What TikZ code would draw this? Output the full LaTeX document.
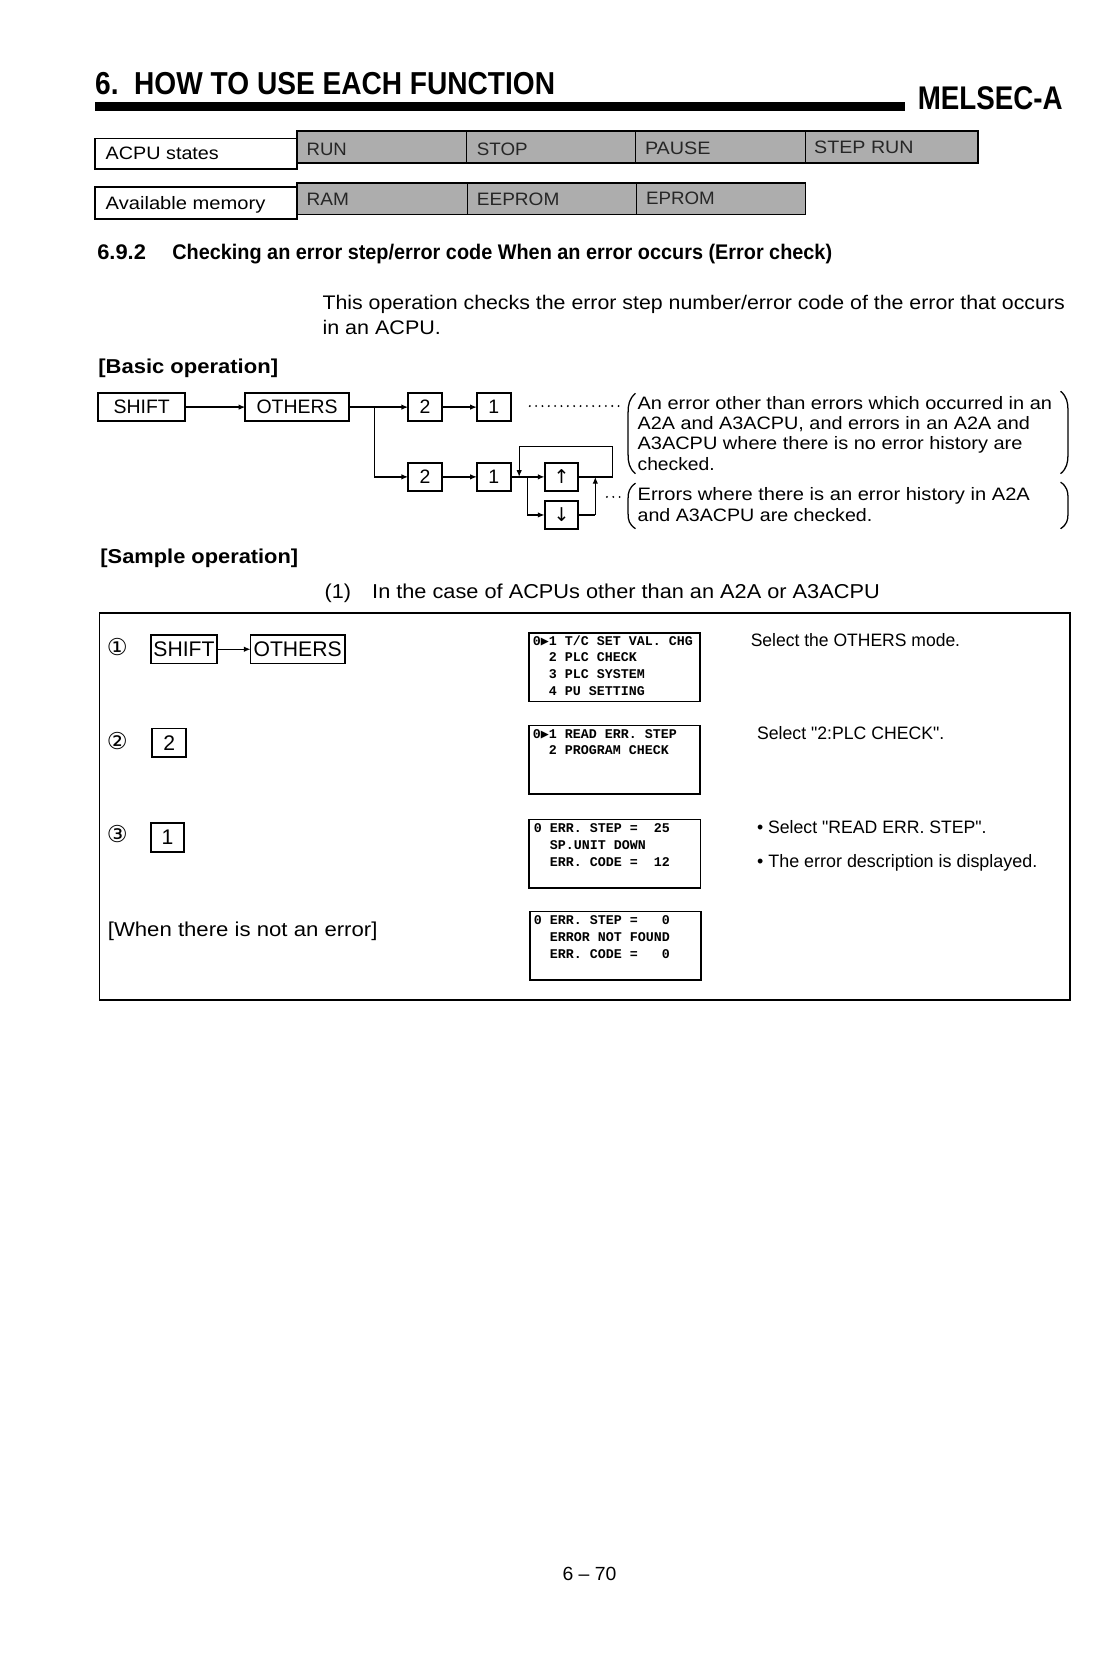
\documentclass[tikz,border=0pt]{standalone}
\usepackage{fontspec}
\setmainfont{Liberation Sans}
\setmonofont{Liberation Mono}
\newfontfamily\dejavu{DejaVu Sans}
\newfontfamily\dvmono{DejaVu Sans Mono}
\usetikzlibrary{arrows.meta}
\newlength\px \setlength\px{0.5pt}
\newcommand\fw[2]{\resizebox{#1\px}{\height}{#2}}
\newcommand\fs[1]{\fontsize{#1}{#1}\selectfont}
\newcommand\cur{{\dvmono\bfseries ▶}}
\newcommand\dq{\XeTeXglyph\XeTeXcharglyph"22\relax}
\begin{document}
\begin{tikzpicture}[x=0.5pt,y=-0.5pt,
  txt/.style={anchor=base west, inner sep=0pt, outer sep=0pt},
  keybox/.style={draw, line width=0.9pt, inner sep=0pt, outer sep=0pt, font=\fs{9.2}},
  skey/.style={draw, line width=0.8pt, inner sep=0pt, outer sep=0pt, font=\fs{10}},
  lcd/.style={draw, line width=0.8pt, inner sep=0pt, minimum width=81pt, minimum height=32.5pt},
  lt/.style={txt, font=\ttfamily\bfseries\fs{6.3}},
  arr/.style={-{Latex[length=3.2pt,width=2.6pt]}, line width=0.6pt},
  ln/.style={line width=0.6pt},
  leader/.style={line width=1pt, line cap=round, dash pattern=on 0pt off 3pt},
  paren/.style={line width=0.6pt},
  cellfill/.style={fill=black!32, line width=0.7pt, draw},
  celltxt/.style={txt, font=\fs{8.5}, text=black!85},
  body/.style={txt, font=\fs{8.5}},
  para/.style={txt, font=\fs{9.3}},
  bhead/.style={txt, font=\bfseries\fs{9.5}},
  circ/.style={txt, font={\dejavu\fs{11}}}]
\useasboundingbox[fill=white] (0,0) rectangle (1040,1568);

% ---------- page header ----------
\node[txt, font=\bfseries\fs{15}] (title) at (90,89) {\fw{435}{6.\ \ HOW TO USE EACH FUNCTION}};
\fill (90,96) rectangle (856,105);
\node[txt, font=\bfseries\fs{15.5}] (melsec) at (868,104) {\fw{137}{MELSEC-A}};

% ---------- ACPU states / memory tables ----------
\draw[line width=0.7pt] (90,131) rectangle (281,160);
\draw[cellfill] (281,124) rectangle (925,154);
\draw[line width=0.7pt] (441,124)--(441,154) (601,124)--(601,154) (762,124)--(762,154);
\node[body] (acpu) at (100,151) {\fw{107}{ACPU states}};
\node[celltxt] (run) at (290,147) {\fw{38}{RUN}};
\node[celltxt] (stop) at (451,147) {\fw{48}{STOP}};
\node[celltxt] (pause) at (610,146) {\fw{62}{PAUSE}};
\node[celltxt] (steprun) at (770,145) {\fw{94}{STEP RUN}};

\draw[line width=0.7pt] (90,177) rectangle (281,207);
\draw[cellfill] (281,173) rectangle (762,203);
\draw[line width=0.7pt] (442,173)--(442,203) (602,173)--(602,203);
\node[body] (avail) at (100,198) {\fw{151}{Available memory}};
\node[celltxt] (ram) at (290,194) {\fw{40}{RAM}};
\node[celltxt] (eeprom) at (451,194) {\fw{78}{EEPROM}};
\node[celltxt] (eprom) at (611,193) {\fw{65}{EPROM}};

% ---------- section heading ----------
\node[txt, font=\bfseries\fs{10}] (secno) at (92,245) {\fw{46}{6.9.2}};
\node[txt, font=\bfseries\fs{10}] (sectitle) at (163,245) {\fw{624}{Checking an error step/error code When an error occurs (Error check)}};
\node[para] (p1) at (305,293) {\fw{702}{This operation checks the error step number/error code of the error that occurs}};
\node[para] (p2) at (305,316) {\fw{112}{in an ACPU.}};

\node[bhead] (basic) at (93,353) {\fw{170}{[Basic operation]}};

% ---------- basic operation diagram ----------
\node[keybox, minimum width=41pt, minimum height=13.5pt] (shift) at (134,385) {SHIFT};
\node[keybox, minimum width=49pt, minimum height=13.5pt] (others) at (281,385) {OTHERS};
\node[keybox, minimum width=16pt, minimum height=13pt] (twoA) at (402,385) {2};
\node[keybox, minimum width=16pt, minimum height=13pt] (oneA) at (467,385) {1};
\node[keybox, minimum width=16pt, minimum height=13pt] (twoB) at (402,451) {2};
\node[keybox, minimum width=16pt, minimum height=13pt] (oneB) at (467,451) {1};
\node[keybox, minimum width=16pt, minimum height=13pt, font={\dejavu\fs{9}}] (up) at (531,451) {↑};
\node[keybox, minimum width=16pt, minimum height=13pt, font={\dejavu\fs{9}}] (down) at (531,487) {↓};

\coordinate (br) at (354,385);
\coordinate (jn) at (499,451);
\coordinate (loopR) at (579,422);
\coordinate (loopL) at (491,422);
\coordinate (loopIn) at (491,451);
\coordinate (dnR) at (563,487);
\coordinate (dnIn) at (563,451);

\draw[arr] (shift) -- (others);
\draw[arr] (others) -- (twoA);
\draw[arr] (br) |- (twoB);
\draw[arr] (twoA) -- (oneA);
\draw[arr] (twoB) -- (oneB);
\draw[arr] (oneB) -- (up);
\draw[arr] (jn) |- (down);
\draw[ln] (up.east) -| (loopR) -- (loopL);
\draw[arr] (loopL) -- (loopIn);
\draw[ln] (down.east) -- (dnR);
\draw[arr] (dnR) -- (dnIn);

\coordinate (ldA1) at (501,384);
\coordinate (ldA2) at (585,384);
\coordinate (ldB1) at (574,470);
\coordinate (ldB2) at (586,470);
\draw[leader] (ldA1) -- (ldA2);
\draw[leader] (ldB1) -- (ldB2);

% parentheses
\draw[paren] (601,372) .. controls (595,377) and (594,383) .. (594,390) -- (594,430) .. controls (594,437) and (595,443) .. (601,448);
\draw[paren] (1003,370) .. controls (1009,375) and (1010,381) .. (1010,388) -- (1010,430) .. controls (1010,437) and (1009,443) .. (1003,448);
\draw[paren] (601,457) .. controls (595,461) and (594,466) .. (594,471) -- (594,486) .. controls (594,492) and (595,496) .. (601,500);
\draw[paren] (1003,456) .. controls (1009,460) and (1010,465) .. (1010,470) -- (1010,486) .. controls (1010,492) and (1009,496) .. (1003,500);

\node[body] (n1a) at (603,387) {\fw{392}{An error other than errors which occurred in an}};
\node[body] (n1b) at (603,406) {\fw{371}{A2A and A3ACPU, and errors in an A2A and}};
\node[body] (n1c) at (603,425) {\fw{364}{A3ACPU where there is no error history are}};
\node[body] (n1d) at (603,445) {\fw{73}{checked.}};
\node[body] (n2a) at (603,473) {\fw{371}{Errors where there is an error history in A2A}};
\node[body] (n2b) at (603,493) {\fw{222}{and A3ACPU are checked.}};

% ---------- sample operation ----------
\node[bhead] (sample) at (95,533) {\fw{187}{[Sample operation]}};
\node[txt, font=\fs{9.5}] (case1no) at (307,566) {\fw{25}{(1)}};
\node[txt, font=\fs{9.5}] (case1) at (352,566) {\fw{480}{In the case of ACPUs other than an A2A or A3ACPU}};

\draw[line width=0.8pt] (94,580) rectangle (1012,946);

% row 1
\node[circ] (c1) at (101,620) {①};
\node[skey, minimum width=31pt, minimum height=13.5pt] (sshift) at (174,614) {SHIFT};
\node[skey, minimum width=44.5pt, minimum height=13.5pt] (sothers) at (281.5,614) {OTHERS};
\draw[arr] (sshift) -- (sothers);
\node[lcd] (lcd1) at (581,631) {};
\node[lt] (l1a) at (504,610) {0\cur1 T/C SET VAL. CHG};
\node[lt] (l1b) at (504,626) {~~2 PLC CHECK};
\node[lt] (l1c) at (504,642) {~~3 PLC SYSTEM};
\node[lt] (l1d) at (504,658) {~~4 PU SETTING};
\node[body] (d1) at (710,611) {\fw{198}{Select the OTHERS mode.}};

% row 2
\node[circ] (c2) at (101,709) {②};
\node[skey, minimum width=16pt, minimum height=13.5pt] (stwo) at (160,702.5) {2};
\node[lcd] (lcd2) at (581,718.5) {};
\node[lt] (l2a) at (504,698) {0\cur1 READ ERR. STEP};
\node[lt] (l2b) at (504,714) {~~2 PROGRAM CHECK};
\node[body] (d2) at (716,699) {\fw{177}{Select \dq2:PLC CHECK\dq.}};

% row 3
\node[circ] (c3) at (101,797) {③};
\node[skey, minimum width=15.5pt, minimum height=14pt] (sone) at (158.5,792) {1};
\node[lcd] (lcd3) at (581.5,807.5) {};
\node[lt] (l3a) at (505,787) {0 ERR. STEP =~~25};
\node[lt] (l3b) at (505,803) {~~SP.UNIT DOWN};
\node[lt] (l3c) at (505,819) {~~ERR. CODE =~~12};
\node[body] (d3a) at (716,788) {\fw{217}{• Select \dq READ ERR. STEP\dq.}};
\node[body] (d3b) at (716,820) {\fw{265}{• The error description is displayed.}};

% row 4
\node[txt, font=\fs{9.5}] (noerr) at (102,886) {\fw{255}{[When there is not an error]}};
\node[lcd] (lcd4) at (582,894.5) {};
\node[lt] (l4a) at (505,874) {0 ERR. STEP =~~~0};
\node[lt] (l4b) at (505,890) {~~ERROR NOT FOUND};
\node[lt] (l4c) at (505,906) {~~ERR. CODE =~~~0};

% page number
\node[txt, font=\fs{9}] (page) at (532,1495) {\fw{51}{6 – 70}};
\end{tikzpicture}
\end{document}
